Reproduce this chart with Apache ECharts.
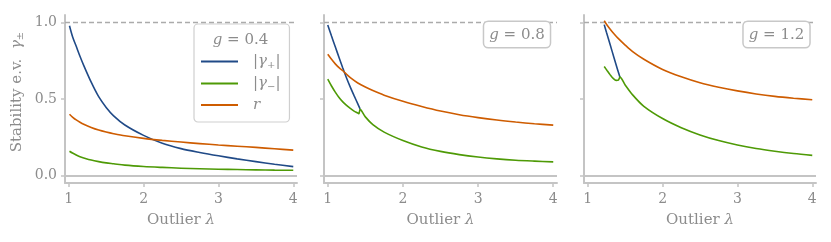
<!DOCTYPE html>
<html><head><meta charset="utf-8">
<script src="https://cdn.jsdelivr.net/npm/echarts@6/dist/echarts.min.js"></script>
<style>html,body{margin:0;padding:0;background:#fff}#c{width:831px;height:242px}</style>
</head><body><div id="c"></div>
<script>
// ---- data ----
const xTicks = [1, 2, 3, 4];
const yTicks = [0, 0.5, 1];
const seriesNames = ['|γ+|', '|γ−|', 'r'];
const gLabels = ['0.4', '0.8', '1.2'];

// panel 1 : g = 0.4
const lam1 = [1.01, 1.05, 1.1, 1.15, 1.2, 1.3, 1.4, 1.5, 1.6, 1.75, 2.0, 2.25, 2.5, 2.75, 3.0, 3.25, 3.5, 3.75, 4.0];
const gPlus1 = [0.98, 0.91, 0.845, 0.78, 0.72, 0.61, 0.515, 0.445, 0.39, 0.33, 0.262, 0.21, 0.175, 0.15, 0.128, 0.108, 0.09, 0.073, 0.057];
const gMinus1 = [0.158, 0.146, 0.133, 0.122, 0.114, 0.1, 0.09, 0.082, 0.076, 0.067, 0.058, 0.052, 0.047, 0.043, 0.04, 0.038, 0.036, 0.034, 0.033];
const r1 = [0.40, 0.382, 0.363, 0.348, 0.335, 0.314, 0.297, 0.284, 0.273, 0.259, 0.242, 0.229, 0.218, 0.208, 0.199, 0.191, 0.183, 0.174, 0.165];

// panel 2 : g = 0.8
const lam2Plus = [1.0, 1.05, 1.1, 1.15, 1.2, 1.25, 1.3, 1.35, 1.4, 1.43];
const gPlus2 = [0.985, 0.912, 0.842, 0.772, 0.703, 0.638, 0.578, 0.522, 0.468, 0.435];
const lam2Minus = [1.0, 1.05, 1.1, 1.15, 1.2, 1.25, 1.3, 1.35, 1.4, 1.415, 1.43, 1.5, 1.6, 1.75, 2.0, 2.25, 2.5, 2.75, 3.0, 3.25, 3.5, 3.75, 4.0];
const gMinus2 = [0.63, 0.585, 0.545, 0.51, 0.481, 0.458, 0.438, 0.421, 0.408, 0.403, 0.432, 0.383, 0.332, 0.283, 0.228, 0.186, 0.157, 0.136, 0.12, 0.108, 0.099, 0.093, 0.088];
const lam2R = [1.0, 1.05, 1.1, 1.15, 1.2, 1.25, 1.3, 1.4, 1.5, 1.6, 1.75, 2.0, 2.25, 2.5, 2.75, 3.0, 3.25, 3.5, 3.75, 4.0];
const r2 = [0.793, 0.76, 0.73, 0.705, 0.685, 0.662, 0.64, 0.605, 0.578, 0.555, 0.525, 0.485, 0.451, 0.421, 0.397, 0.378, 0.362, 0.349, 0.338, 0.329];

// panel 3 : g = 1.2
const lam3Plus = [1.22, 1.25, 1.3, 1.35, 1.4, 1.43];
const gPlus3 = [0.987, 0.937, 0.855, 0.772, 0.69, 0.643];
const lam3Minus = [1.22, 1.26, 1.3, 1.34, 1.38, 1.41, 1.43, 1.5, 1.6, 1.75, 2.0, 2.25, 2.5, 2.75, 3.0, 3.25, 3.5, 3.75, 4.0];
const gMinus3 = [0.713, 0.685, 0.658, 0.635, 0.622, 0.624, 0.643, 0.592, 0.527, 0.452, 0.372, 0.312, 0.265, 0.228, 0.199, 0.176, 0.158, 0.143, 0.131];
const lam3R = [1.22, 1.25, 1.3, 1.35, 1.4, 1.5, 1.6, 1.75, 2.0, 2.25, 2.5, 2.75, 3.0, 3.25, 3.5, 3.75, 4.0];
const r3 = [1.012, 0.99, 0.957, 0.927, 0.9, 0.853, 0.81, 0.76, 0.693, 0.645, 0.606, 0.577, 0.553, 0.533, 0.517, 0.505, 0.495];

// ---- styling ----
const FONT = 'DejaVu Serif';
const TXT = '#8c8c8c';
const AX = '#c4c4c4';
const COLORS = ['#204a87', '#4e9a06', '#ce5c00'];
const panels = [
  { curves: [[lam1, gPlus1], [lam1, gMinus1], [lam1, r1]] },
  { curves: [[lam2Plus, gPlus2], [lam2Minus, gMinus2], [lam2R, r2]] },
  { curves: [[lam3Plus, gPlus3], [lam3Minus, gMinus3], [lam3R, r3]] }
];
const gridPos = [
  { left: 65, top: 15, width: 232, height: 168 },
  { left: 324, top: 15, width: 233, height: 168 },
  { left: 584, top: 15, width: 232, height: 168 }
];

// rich styles for components (use color)
const rich = {
  i: { fontFamily: FONT, fontStyle: 'italic', fontSize: 15, color: TXT, lineHeight: 16 },
  s: { fontFamily: FONT, fontSize: 10, color: TXT, padding: [7, 0, 0, 0], lineHeight: 16 },
  n: { fontFamily: FONT, fontSize: 15, color: TXT, lineHeight: 16 }
};
// rich styles for graphic elements (use fill)
const grich = {
  i: { fontFamily: FONT, fontStyle: 'italic', fontSize: 15, fill: TXT, lineHeight: 16 },
  s: { fontFamily: FONT, fontSize: 10, fill: TXT, padding: [7, 0, 0, 0], lineHeight: 16 },
  n: { fontFamily: FONT, fontSize: 15, fill: TXT, lineHeight: 16 }
};
function fmtName(name) {
  if (name === seriesNames[0]) return '{n||}{i|γ}{s|+}{n||}';
  if (name === seriesNames[1]) return '{n||}{i|γ}{s|−}{n||}';
  return '{i|r}';
}

const grid = gridPos.map(g => Object.assign({ containLabel: false }, g));
const xAxis = gridPos.map((g, k) => ({
  type: 'value', gridIndex: k, min: 0.95, max: 4.05,
  axisLine: { show: true, onZero: false, lineStyle: { color: AX, width: 2 } },
  axisTick: { show: true, customValues: xTicks, length: 4, lineStyle: { color: AX, width: 1.5 } },
  axisLabel: { show: true, customValues: xTicks, margin: 9, color: TXT, fontFamily: FONT, fontSize: 14 },
  splitLine: { show: false },
  name: 'Outlier {i|λ}', nameLocation: 'middle', nameGap: 30,
  nameTextStyle: { color: TXT, fontFamily: FONT, fontSize: 15, rich: { i: { fontFamily: FONT, fontStyle: 'italic', fontSize: 15, color: TXT } } }
}));
const yAxis = gridPos.map((g, k) => ({
  type: 'value', gridIndex: k, min: -0.05, max: 1.05,
  axisLine: { show: true, onZero: false, lineStyle: { color: AX, width: 2 } },
  axisTick: { show: true, customValues: yTicks, length: 4, lineStyle: { color: AX, width: 1.5 } },
  axisLabel: { show: k === 0, customValues: yTicks, margin: 8, color: TXT, fontFamily: FONT, fontSize: 14,
    formatter: v => Number(v).toFixed(1) },
  splitLine: { show: false }
}));

const series = [];
panels.forEach((p, k) => {
  p.curves.forEach((c, j) => {
    const s = {
      type: 'line', name: seriesNames[j], xAxisIndex: k, yAxisIndex: k,
      data: c[0].map((x, i) => [x, c[1][i]]),
      showSymbol: false, symbol: 'none', smooth: 0.3,
      lineStyle: { color: COLORS[j], width: 1.6 }, itemStyle: { color: COLORS[j] },
      animation: false, z: 3 + j
    };
    if (j === 0) {
      s.markLine = {
        silent: true, symbol: 'none', animation: false, label: { show: false },
        data: [
          { yAxis: 1, lineStyle: { type: [5, 3], color: '#ababab', width: 1.3 } },
          { yAxis: 0, lineStyle: { type: 'solid', color: AX, width: 2 } }
        ]
      };
    }
    series.push(s);
  });
});

const boxStyle = { backgroundColor: '#fff', borderColor: '#c8c8c8', borderWidth: 1.5, borderRadius: 4, padding: [5, 5, 4, 5] };
const graphic = [
  { type: 'text', x: 17, y: 92, rotation: Math.PI / 2, z: 100,
    style: { text: '{n|Stability e.v.  }{i|γ}{s|±}', align: 'center', verticalAlign: 'middle', rich: grich } },
  { type: 'text', x: 240.5, y: 40, z: 100,
    style: { text: '{i|g}{n| = ' + gLabels[0] + '}', align: 'center', verticalAlign: 'middle', rich: grich } },
  { type: 'text', x: 517, y: 34.5, z: 100,
    style: Object.assign({ text: '{i|g}{n| = ' + gLabels[1] + '}', align: 'center', verticalAlign: 'middle', rich: grich }, boxStyle) },
  { type: 'text', x: 776.5, y: 34.5, z: 100,
    style: Object.assign({ text: '{i|g}{n| = ' + gLabels[2] + '}', align: 'center', verticalAlign: 'middle', rich: grich }, boxStyle) }
];

const chart = echarts.init(document.getElementById('c'), null, { renderer: 'canvas' });
chart.setOption({
  animation: false,
  backgroundColor: '#fff',
  grid, xAxis, yAxis, series, graphic,
  legend: {
    data: seriesNames, orient: 'vertical', left: 194, top: 24,
    padding: [29, 9, 9, 7], itemGap: 5, itemWidth: 37, itemHeight: 2, icon: 'rect',
    backgroundColor: '#fff', borderColor: '#cfcfcf', borderWidth: 1.2, borderRadius: 4,
    selectedMode: false,
    textStyle: { color: TXT, fontFamily: FONT, fontSize: 15, lineHeight: 16, padding: [0, 0, 0, 10], rich: rich },
    formatter: fmtName
  }
});
</script></body></html>
